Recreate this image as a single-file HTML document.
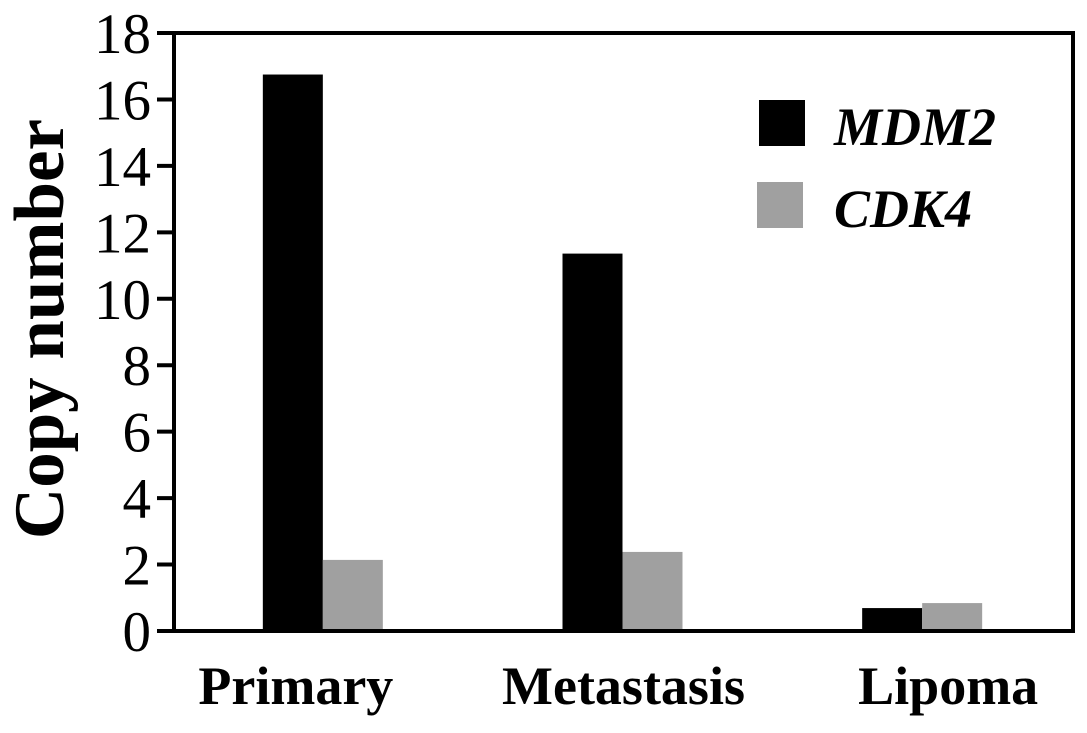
<!DOCTYPE html>
<html><head><meta charset="utf-8"><style>body{margin:0;background:#fff}svg{display:block}</style></head>
<body>
<svg id="chart" width="1087" height="733" xmlns="http://www.w3.org/2000/svg" font-family="'Liberation Serif', serif">
<g id="bars"></g>
<g id="axes"></g>
</svg>
<script>
const categories = ["Primary", "Metastasis", "Lipoma"];
const mdm2 = [16.75, 11.36, 0.69];
const cdk4 = [2.14, 2.38, 0.84];
const yTicks = [0, 2, 4, 6, 8, 10, 12, 14, 16, 18];
const NS = "http://www.w3.org/2000/svg";
const x0 = 174, x1 = 1073, yTop = 33, yBot = 631, yMax = 18;
const y = v => yBot - v / yMax * (yBot - yTop);
const band = (x1 - x0) / categories.length;
const xc = i => x0 + band * (i + 0.5) - 1;
const labelShift = [-27, 1, 26];
const bw = 60;
function mk(tag, attrs, parent) { const e = document.createElementNS(NS, tag); for (const k in attrs) e.setAttribute(k, attrs[k]); parent.appendChild(e); return e; }
const bars = document.getElementById("bars"), axes = document.getElementById("axes");
categories.forEach((c, i) => {
  const r1 = mk("rect", {x: xc(i) - bw, y: y(mdm2[i]), width: bw, height: yBot - y(mdm2[i]), fill: "#000"}, bars);
  
  
  const r2 = mk("rect", {x: xc(i), y: y(cdk4[i]), width: bw, height: yBot - y(cdk4[i]), fill: "#a0a0a0"}, bars);
  
  
  const t = mk("text", {x: xc(i) + labelShift[i], y: 704, "text-anchor": "middle", "font-size": 54, "font-weight": "bold"}, axes);
  t.textContent = c;
  
  
});
const fr = mk("path", {d: `M157 ${yTop}H${x1}V${yBot}H157M${x0} ${yTop}V${yBot}`, fill: "none", stroke: "#000", "stroke-width": 4}, axes);


yTicks.forEach(v => {
  const l = mk("line", {x1: 157, x2: x0, y1: y(v), y2: y(v), stroke: "#000", "stroke-width": 4}, axes);
  
  
  const t = mk("text", {x: 151, y: y(v) + 20, "text-anchor": "end", "font-size": 57}, axes);
  t.textContent = v;
  
  
});
</script>
<svg style="position:absolute;left:0;top:0" width="1087" height="733" xmlns="http://www.w3.org/2000/svg" font-family="'Liberation Serif', serif">
<text transform="translate(63,329) rotate(-90)" text-anchor="middle" font-size="71" font-weight="bold">Copy number</text>
<rect x="759" y="100" width="46" height="46" fill="#000"/>
<text x="834" y="145" font-size="54" font-weight="bold" font-style="italic">MDM2</text>
<rect x="757" y="182" width="46" height="46" fill="#a0a0a0"/>
<text x="834" y="227" font-size="54" font-weight="bold" font-style="italic">CDK4</text>
</svg>
</body></html>
